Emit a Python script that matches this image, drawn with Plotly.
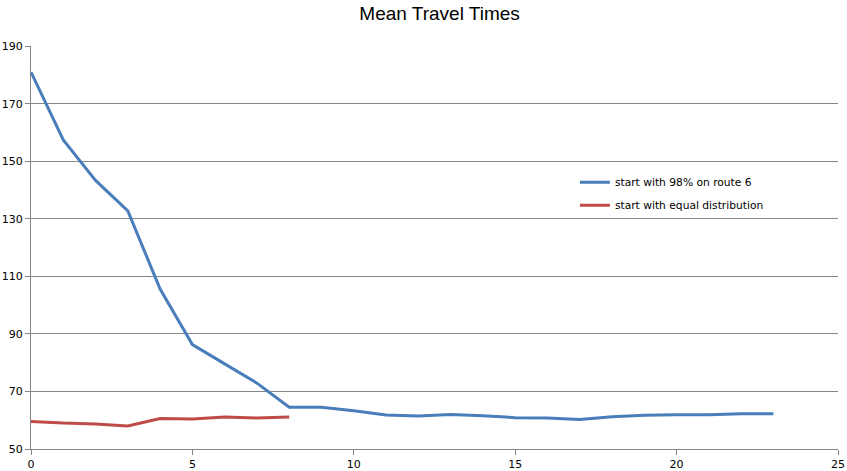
import plotly.graph_objects as go

# iterations
steps_98 = list(range(24))
steps_equal = list(range(9))

# mean travel time per iteration
travel_98 = [181.1, 157.5, 143.4, 132.8, 105.6, 86.3, 79.6, 72.9, 64.5, 64.5,
             63.3, 61.8, 61.5, 62.0, 61.6, 60.9, 60.8, 60.3, 61.2, 61.7,
             61.9, 61.9, 62.3, 62.3]
travel_equal = [59.6, 59.0, 58.7, 58.0, 60.6, 60.4, 61.1, 60.8, 61.1]

x_ticks = [0, 5, 10, 15, 20, 25]
y_ticks = [50, 70, 90, 110, 130, 150, 170, 190]

grid = '#868686'
tick_font = dict(family='DejaVu Sans', size=11, color='#000000')

fig = go.Figure()
fig.add_trace(go.Scatter(x=steps_98, y=travel_98, mode='lines',
                         name='start with 98% on route 6', legendgroup='a',
                         line=dict(color='#4A7EBB', width=3)))
fig.add_trace(go.Scatter(x=steps_equal, y=travel_equal, mode='lines',
                         name='start with equal distribution', legendgroup='b',
                         line=dict(color='#BE4B48', width=3)))

fig.update_layout(
    width=847, height=471,
    margin=dict(l=31, r=9, t=46, b=22, autoexpand=False),
    paper_bgcolor='white', plot_bgcolor='white',
    title=dict(text='Mean Travel Times', x=0.519, xanchor='center',
               y=0.986, yanchor='top', pad=dict(t=0, b=0),
               font=dict(family='Liberation Sans', size=19, color='#000000')),
    legend=dict(x=0.674, y=0.698, xanchor='left', yanchor='top',
                font=dict(family='DejaVu Sans', size=10.7, color='#000000'),
                tracegroupgap=4, bgcolor='rgba(0,0,0,0)'),
    xaxis=dict(range=[0, 25], tickvals=x_ticks, showgrid=False,
               showline=True, linecolor=grid, linewidth=1,
               ticks='outside', ticklen=5, tickcolor=grid,
               tickfont=tick_font, zeroline=False, automargin=False),
    yaxis=dict(range=[50, 190.15], tickvals=y_ticks, showgrid=True,
               gridcolor=grid, gridwidth=1, showline=True, linecolor=grid,
               linewidth=1, ticks='outside', ticklen=5, tickcolor=grid,
               tickfont=tick_font, zeroline=False, automargin=False),
)

# drop the default page margin so the figure sits at the window's corner
fig.write_html("out.html", config={'displayModeBar': False},
               post_script="document.body.style.margin='0px';")
